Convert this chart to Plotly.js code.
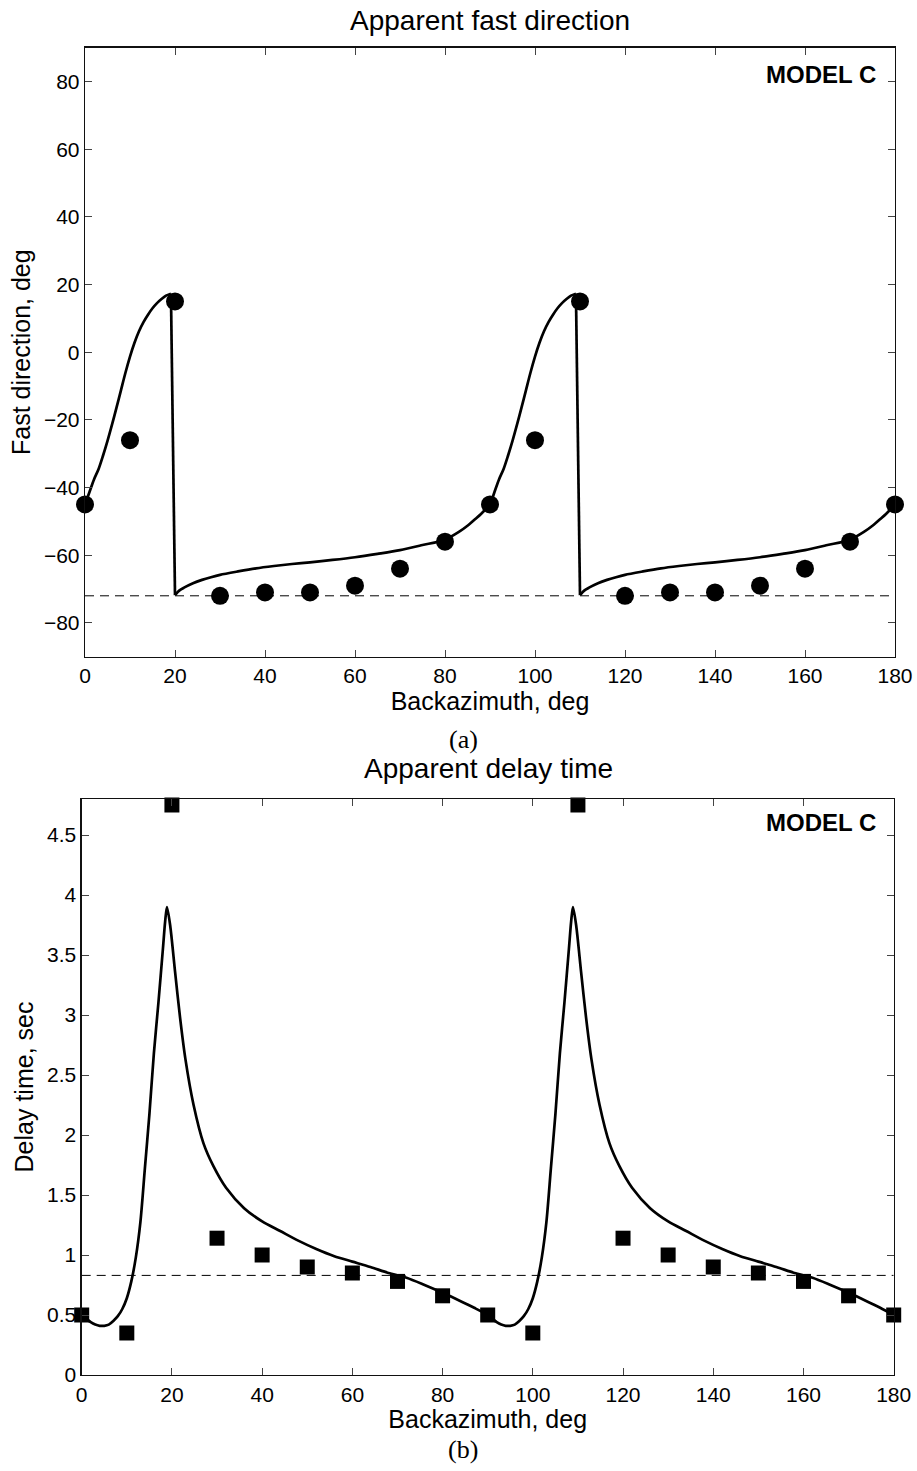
<!DOCTYPE html>
<html>
<head>
<meta charset="utf-8">
<script src="https://cdn.plot.ly/plotly-3.0.1.min.js"></script>
<style>html,body{margin:0;padding:0;background:#fff;}</style>
</head>
<body>
<div id="chart" style="width:917px;height:1471px;"></div>
<script>
// ---- data ----
var backazimuth = [0,10,20,30,40,50,60,70,80,90,100,110,120,130,140,150,160,170,180];
var fastObserved = [-45,-26,15,-72,-71,-71,-69,-64,-56,-45,-26,15,-72,-71,-71,-69,-64,-56,-45];
var delayObserved = [0.5,0.35,4.75,1.14,1.0,0.9,0.85,0.78,0.66,0.5,0.35,4.75,1.14,1.0,0.9,0.85,0.78,0.66,0.5];

var fastModelX = [0,1,2,3,4,5,6,7,8,9,10,11,12,13,14,15,16,17,18,19.1,20,21,22,24,26,28,30,34,38,42,46,50,55,60,65,70,75,80,83,85,87,88,89,90,
  91,92,93,94,95,96,97,98,99,100,101,102,103,104,105,106,107,108,109.1,110,111,112,114,116,118,120,124,128,132,136,140,145,150,155,160,165,170,173,175,177,178,179,180];
var fastModelY = [-45,-41.3,-37.6,-34.6,-30.6,-26.2,-21.4,-16.4,-11.2,-6.0,-1.3,2.8,6.2,8.9,11.1,13.0,14.5,15.7,16.7,17.3,-71.8,-70.4,-69.6,-68.3,-67.3,-66.5,-65.8,-64.8,-63.9,-63.2,-62.6,-62.1,-61.4,-60.6,-59.6,-58.5,-57.0,-55.4,-53.2,-51.3,-49,-47.8,-46.5,-45,
  -41.3,-37.6,-34.6,-30.6,-26.2,-21.4,-16.4,-11.2,-6.0,-1.3,2.8,6.2,8.9,11.1,13.0,14.5,15.7,16.7,17.3,-71.8,-70.4,-69.6,-68.3,-67.3,-66.5,-65.8,-64.8,-63.9,-63.2,-62.6,-62.1,-61.4,-60.6,-59.6,-58.5,-57.0,-55.4,-53.2,-51.3,-49,-47.8,-46.5,-45];

var delayModelX = [0,1,2,3,4,5,6,7,8,9,10,11,12,13,14,15,16,17,18,18.5,18.9,19.6,20.7,21.8,23,24.8,27,29.2,32,36,40,44,48,52,56,60,64,68,72,76,80,84,87,90,
  91,92,93,94,95,96,97,98,99,100,101,102,103,104,105,106,107,108,108.5,108.9,109.6,110.7,111.8,113,114.8,117,119.2,122,126,130,134,138,142,146,150,154,158,162,166,170,174,177,180];
var delayModelY = [0.5,0.47,0.44,0.42,0.41,0.41,0.42,0.45,0.49,0.55,0.64,0.78,0.98,1.27,1.72,2.17,2.68,3.1,3.55,3.78,3.9,3.75,3.36,2.98,2.63,2.25,1.93,1.74,1.56,1.39,1.28,1.2,1.12,1.05,0.99,0.945,0.9,0.85,0.81,0.75,0.685,0.615,0.56,0.5,
  0.47,0.44,0.42,0.41,0.41,0.42,0.45,0.49,0.55,0.64,0.78,0.98,1.27,1.72,2.17,2.68,3.1,3.55,3.78,3.9,3.75,3.36,2.98,2.63,2.25,1.93,1.74,1.56,1.39,1.28,1.2,1.12,1.05,0.99,0.945,0.9,0.85,0.81,0.75,0.685,0.615,0.56,0.5];

var refRangeX = [0,180];
var fastReference = [-72,-72];
var delayReference = [0.83,0.83];

var xTicks = [0,20,40,60,80,100,120,140,160,180];
var fastTicks = [-80,-60,-40,-20,0,20,40,60,80];
var delayTicks = [0,0.5,1,1.5,2,2.5,3,3.5,4,4.5];

var titleTop = 'Apparent fast direction';
var titleBottom = 'Apparent delay time';
var xLabel = 'Backazimuth, deg';
var yLabelTop = 'Fast direction, deg';
var yLabelBottom = 'Delay time, sec';
var modelLabel = 'MODEL C';

// ---- styles ----
var SANS = 'Liberation Sans, Arial, Helvetica, sans-serif';
var SERIF = 'Liberation Serif, Times New Roman, serif';
var W = 917, H = 1471;
var CURVE = {color:'#000', width:2.7};

// split a model curve at its jumps: smooth pieces + straight jump segments
function curveTraces(xs, ys, xa, ya, jump){
  var out = [], start = 0;
  for (var i = 1; i <= xs.length; i++){
    if (i === xs.length || Math.abs(ys[i] - ys[i-1]) > jump){
      out.push({x: xs.slice(start, i), y: ys.slice(start, i), xaxis:xa, yaxis:ya, mode:'lines',
        line:{color:CURVE.color, width:CURVE.width, shape:'spline', smoothing:0.8}});
      if (i < xs.length){
        out.push({x: [xs[i-1], xs[i]], y: [ys[i-1], ys[i]], xaxis:xa, yaxis:ya, mode:'lines',
          line:{color:CURVE.color, width:CURVE.width}});
      }
      start = i;
    }
  }
  return out;
}

var traces = [].concat(
  [{x: refRangeX, y: fastReference, xaxis:'x', yaxis:'y', mode:'lines', line:{color:'#000', width:1, dash:'9px,6px'}}],
  curveTraces(fastModelX, fastModelY, 'x', 'y', 40),
  [{x: backazimuth, y: fastObserved, xaxis:'x', yaxis:'y', mode:'markers', cliponaxis:false, marker:{symbol:'circle', size:18, color:'#000'}}],
  [{x: refRangeX, y: delayReference, xaxis:'x2', yaxis:'y2', mode:'lines', line:{color:'#000', width:1, dash:'9px,6px'}}],
  curveTraces(delayModelX, delayModelY, 'x2', 'y2', 100),
  [{x: backazimuth, y: delayObserved, xaxis:'x2', yaxis:'y2', mode:'markers', cliponaxis:false, marker:{symbol:'square', size:15, color:'#000'}}]
);

function axisBase(){
  return {
    showgrid:false, zeroline:false, showline:true, linecolor:'#111', linewidth:1.3,
    mirror:'ticks', ticks:'inside', ticklen:7, tickwidth:1, tickcolor:'#444',
    tickfont:{family:SANS, size:21, color:'#000'}
  };
}
var AXT = {family:SANS, size:25, color:'#000'};

var xa = axisBase();
Object.assign(xa, {domain:[85/W, 895/W], range:[0,180], tickvals:xTicks, anchor:'y',
  title:{text:xLabel, font:AXT, standoff:1}});
var ya = axisBase();
Object.assign(ya, {domain:[1-656.7/H, 1-47.7/H], range:[-90,90], tickvals:fastTicks, anchor:'x',
  title:{text:yLabelTop, font:AXT, standoff:6}});
var xa2 = axisBase();
Object.assign(xa2, {domain:[81.7/W, 893.7/W], range:[0,180], tickvals:xTicks, anchor:'y2',
  title:{text:xLabel, font:AXT, standoff:0}});
var ya2 = axisBase();
Object.assign(ya2, {domain:[1-1375/H, 1-799/H], range:[0,4.8], tickvals:delayTicks, anchor:'x2',
  title:{text:yLabelBottom, font:AXT, standoff:6}});

var layout = {
  width:W, height:H, margin:{l:0, r:0, t:0, b:0, pad:0},
  paper_bgcolor:'#fff', plot_bgcolor:'#fff', showlegend:false,
  xaxis:xa, yaxis:ya, xaxis2:xa2, yaxis2:ya2,
  annotations:[
    {text:titleTop, xref:'paper', yref:'paper', x:490/W, y:1-21/H, xanchor:'center', yanchor:'middle', showarrow:false, font:{family:SANS, size:28, color:'#000'}},
    {text:titleBottom, xref:'paper', yref:'paper', x:488/W, y:1-768/H, xanchor:'center', yanchor:'middle', showarrow:false, font:{family:SANS, size:28, color:'#000'}},
    {text:'<b>'+modelLabel+'</b>', xref:'paper', yref:'paper', x:878/W, y:1-74/H, xanchor:'right', yanchor:'middle', showarrow:false, font:{family:SANS, size:24, color:'#000'}},
    {text:'<b>'+modelLabel+'</b>', xref:'paper', yref:'paper', x:878/W, y:1-822/H, xanchor:'right', yanchor:'middle', showarrow:false, font:{family:SANS, size:24, color:'#000'}},
    {text:'(a)', xref:'paper', yref:'paper', x:463/W, y:1-739/H, xanchor:'center', yanchor:'middle', showarrow:false, font:{family:SERIF, size:26, color:'#000'}},
    {text:'(b)', xref:'paper', yref:'paper', x:463/W, y:1-1449/H, xanchor:'center', yanchor:'middle', showarrow:false, font:{family:SERIF, size:26, color:'#000'}}
  ]
};

Plotly.newPlot('chart', traces, layout, {staticPlot:true, displayModeBar:false});
</script>
</body>
</html>
